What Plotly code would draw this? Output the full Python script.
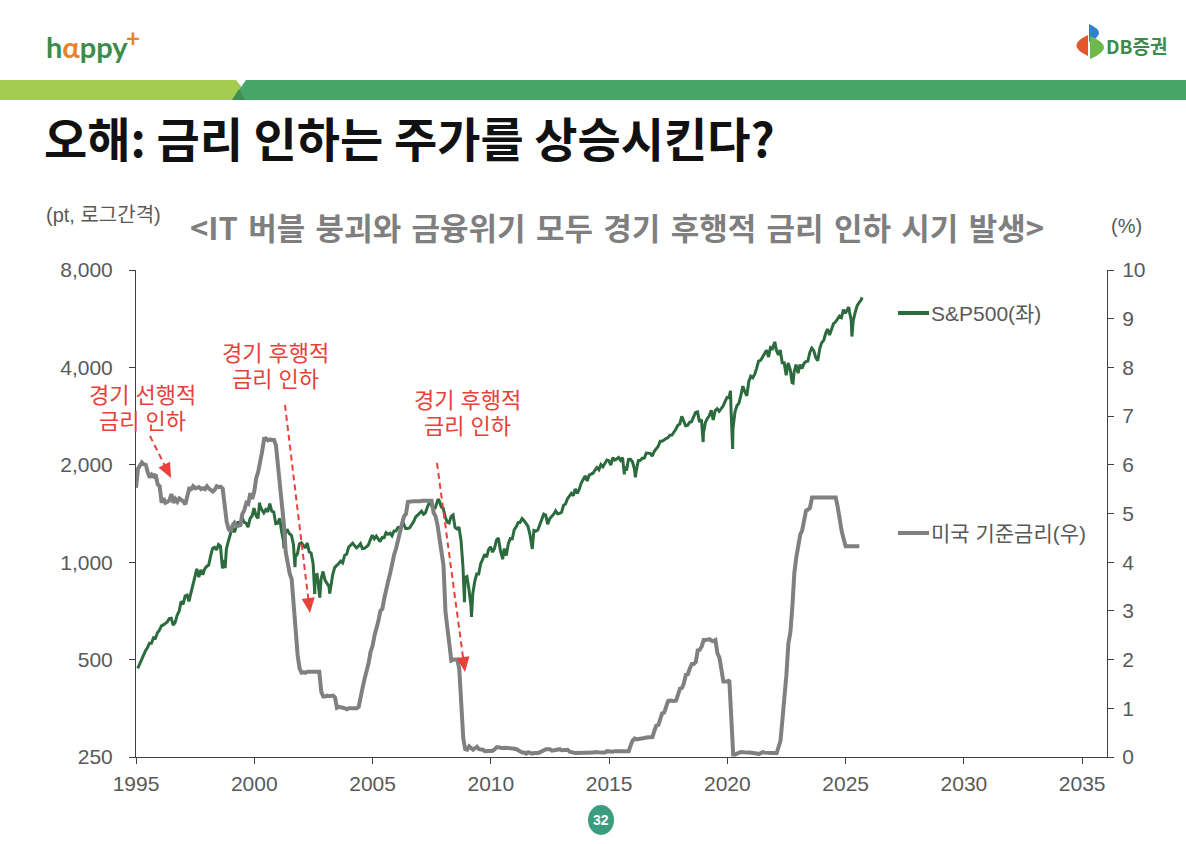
import math
import plotly.graph_objects as go

# ---------------- DATA ----------------
# S&P 500 monthly closes, Jan 1995 .. Aug 2025 (pt)
sp500_monthly = [
    470, 487, 500, 515, 533, 545, 562, 562, 584, 582, 605, 616,
    636, 640, 645, 654, 669, 671, 639, 652, 687, 705, 757, 741,
    786, 791, 757, 801, 848, 885, 954, 899, 947, 915, 955, 970,
    980, 1049, 1102, 1112, 1091, 1134, 1121, 957, 1017, 1099, 1164, 1229,
    1280, 1238, 1286, 1335, 1302, 1373, 1329, 1320, 1283, 1363, 1389, 1469,
    1394, 1366, 1499, 1452, 1421, 1455, 1431, 1518, 1437, 1429, 1315, 1320,
    1366, 1240, 1160, 1249, 1256, 1224, 1211, 1134, 1041, 1060, 1139, 1148,
    1130, 1107, 1147, 1077, 1067, 990, 912, 916, 815, 886, 936, 880,
    856, 841, 848, 917, 964, 975, 990, 1008, 996, 1051, 1058, 1112,
    1131, 1145, 1126, 1107, 1121, 1141, 1102, 1104, 1115, 1130, 1174, 1212,
    1181, 1204, 1181, 1157, 1192, 1191, 1234, 1220, 1229, 1207, 1249, 1248,
    1280, 1281, 1295, 1311, 1270, 1270, 1277, 1304, 1336, 1378, 1401, 1418,
    1438, 1407, 1421, 1482, 1531, 1503, 1455, 1474, 1527, 1549, 1481, 1468,
    1379, 1331, 1323, 1386, 1400, 1280, 1267, 1283, 1166, 969, 896, 903,
    826, 735, 798, 873, 919, 919, 987, 1021, 1057, 1036, 1096, 1115,
    1074, 1104, 1169, 1187, 1089, 1031, 1102, 1049, 1141, 1183, 1181, 1258,
    1286, 1327, 1326, 1364, 1345, 1321, 1292, 1219, 1131, 1253, 1247, 1258,
    1312, 1366, 1408, 1398, 1310, 1362, 1379, 1407, 1441, 1412, 1416, 1426,
    1498, 1515, 1569, 1598, 1631, 1606, 1686, 1633, 1682, 1757, 1806, 1848,
    1783, 1859, 1872, 1884, 1924, 1960, 1931, 2003, 1972, 2018, 2068, 2059,
    1995, 2105, 2068, 2086, 2107, 2063, 2104, 1972, 1920, 2079, 2080, 2044,
    1940, 1932, 2060, 2065, 2097, 2099, 2174, 2171, 2168, 2126, 2199, 2239,
    2279, 2364, 2363, 2384, 2412, 2423, 2470, 2472, 2519, 2575, 2648, 2674,
    2824, 2714, 2641, 2648, 2705, 2718, 2816, 2902, 2914, 2712, 2760, 2507,
    2704, 2784, 2834, 2946, 2752, 2942, 2980, 2926, 2977, 3038, 3141, 3231,
    3226, 2954, 2585, 2912, 3044, 3100, 3271, 3500, 3363, 3270, 3622, 3756,
    3714, 3811, 3973, 4181, 4204, 4298, 4395, 4523, 4308, 4605, 4567, 4766,
    4516, 4374, 4530, 4132, 4132, 3785, 4130, 3955, 3586, 3872, 4080, 3840,
    4077, 3970, 4109, 4169, 4180, 4450, 4589, 4508, 4288, 4194, 4568, 4770,
    4846, 5096, 5254, 5036, 5278, 5460, 5522, 5648, 5762, 5705, 6032, 5882,
    6041, 5955, 5612, 5569, 5912, 6205, 6339, 6460,
]
# intra-month highs / lows visible on the weekly line
sp500_extra_dates = [
    "1998-10-08", "2000-03-24", "2001-04-04", "2001-09-21", "2002-07-23",
    "2002-10-09", "2003-03-11", "2007-10-09", "2008-11-20", "2009-03-09",
    "2010-07-02", "2011-10-03", "2015-08-25", "2016-02-11", "2018-12-24",
    "2020-02-19", "2020-03-23", "2022-01-03", "2022-10-12", "2025-02-19",
    "2025-04-08", "2025-09-12",
]
sp500_extra_values = [
    959, 1527, 1103, 965, 797,
    777, 800, 1565, 752, 677,
    1022, 1099, 1868, 1829, 2351,
    3386, 2237, 4797, 3577, 6144,
    4983, 6584,
]

# US effective federal funds rate, monthly average, Jan 1995 .. Aug 2025 (%)
fed_rate_monthly = [
    5.53, 5.92, 5.98, 6.05, 6.01, 6.00, 5.85, 5.74, 5.80, 5.76, 5.80, 5.60,
    5.56, 5.22, 5.31, 5.22, 5.24, 5.27, 5.40, 5.22, 5.30, 5.24, 5.31, 5.29,
    5.25, 5.19, 5.39, 5.51, 5.50, 5.56, 5.52, 5.54, 5.54, 5.50, 5.52, 5.50,
    5.56, 5.51, 5.49, 5.45, 5.49, 5.56, 5.54, 5.55, 5.51, 5.07, 4.83, 4.68,
    4.63, 4.76, 4.81, 4.74, 4.74, 4.76, 4.99, 5.07, 5.22, 5.20, 5.42, 5.30,
    5.45, 5.73, 5.85, 6.02, 6.27, 6.53, 6.54, 6.50, 6.52, 6.51, 6.51, 6.40,
    5.98, 5.49, 5.31, 4.80, 4.21, 3.97, 3.77, 3.65, 3.07, 2.49, 2.09, 1.82,
    1.73, 1.74, 1.73, 1.75, 1.75, 1.75, 1.73, 1.74, 1.75, 1.75, 1.34, 1.24,
    1.24, 1.26, 1.25, 1.26, 1.26, 1.22, 1.01, 1.03, 1.01, 1.01, 1.00, 0.98,
    1.00, 1.01, 1.00, 1.00, 1.00, 1.03, 1.26, 1.43, 1.61, 1.76, 1.93, 2.16,
    2.28, 2.50, 2.63, 2.79, 3.00, 3.04, 3.26, 3.50, 3.62, 3.78, 4.00, 4.16,
    4.29, 4.49, 4.59, 4.79, 4.94, 4.99, 5.24, 5.25, 5.25, 5.25, 5.25, 5.24,
    5.25, 5.26, 5.26, 5.25, 5.25, 5.25, 5.26, 5.02, 4.94, 4.76, 4.49, 4.24,
    3.94, 2.98, 2.61, 2.28, 1.98, 2.00, 2.01, 2.00, 1.81, 0.97, 0.39, 0.16,
    0.15, 0.22, 0.18, 0.15, 0.18, 0.21, 0.16, 0.16, 0.15, 0.12, 0.12, 0.12,
    0.11, 0.13, 0.16, 0.20, 0.20, 0.18, 0.18, 0.19, 0.19, 0.19, 0.19, 0.18,
    0.17, 0.16, 0.14, 0.10, 0.09, 0.09, 0.07, 0.10, 0.08, 0.07, 0.08, 0.07,
    0.08, 0.10, 0.13, 0.14, 0.16, 0.16, 0.16, 0.13, 0.14, 0.16, 0.16, 0.16,
    0.14, 0.15, 0.14, 0.15, 0.11, 0.09, 0.09, 0.08, 0.08, 0.09, 0.08, 0.09,
    0.07, 0.07, 0.08, 0.09, 0.09, 0.10, 0.09, 0.09, 0.09, 0.09, 0.09, 0.12,
    0.11, 0.11, 0.11, 0.12, 0.12, 0.13, 0.13, 0.14, 0.14, 0.12, 0.12, 0.24,
    0.34, 0.38, 0.36, 0.37, 0.37, 0.38, 0.39, 0.40, 0.40, 0.40, 0.41, 0.54,
    0.65, 0.66, 0.79, 0.90, 0.91, 1.04, 1.15, 1.16, 1.15, 1.15, 1.16, 1.30,
    1.41, 1.42, 1.51, 1.69, 1.70, 1.82, 1.91, 1.91, 1.95, 2.19, 2.20, 2.27,
    2.40, 2.40, 2.41, 2.42, 2.39, 2.38, 2.40, 2.13, 2.04, 1.83, 1.55, 1.55,
    1.55, 1.58, 0.65, 0.05, 0.05, 0.08, 0.09, 0.10, 0.09, 0.09, 0.09, 0.09,
    0.09, 0.08, 0.07, 0.07, 0.06, 0.08, 0.10, 0.09, 0.08, 0.08, 0.08, 0.08,
    0.08, 0.08, 0.20, 0.33, 0.77, 1.21, 1.68, 2.33, 2.56, 3.08, 3.78, 4.10,
    4.33, 4.57, 4.65, 4.83, 5.06, 5.08, 5.12, 5.33, 5.33, 5.33, 5.33, 5.33,
    5.33, 5.33, 5.33, 5.33, 5.33, 5.33, 5.33, 5.33, 5.13, 4.83, 4.64, 4.48,
    4.33, 4.33, 4.33, 4.33, 4.33, 4.33, 4.33, 4.33,
]

x_tick_years = [1995, 2000, 2005, 2010, 2015, 2020, 2025, 2030, 2035]
y1_tickvals = [250, 500, 1000, 2000, 4000, 8000]
y1_ticktext = ["250", "500", "1,000", "2,000", "4,000", "8,000"]

START_YEAR = 1995

# ---------------- series assembly ----------------
def month_dates(n, day):
    out = []
    for i in range(n):
        y = START_YEAR + i // 12
        m = i % 12 + 1
        out.append(f"{y}-{m:02d}-{day:02d}")
    return out

sp_pairs = list(zip(month_dates(len(sp500_monthly), 28), sp500_monthly))
sp_pairs += list(zip(sp500_extra_dates, sp500_extra_values))
sp_pairs.sort(key=lambda p: p[0])
sp_x = [p[0] for p in sp_pairs]
sp_y = [p[1] for p in sp_pairs]

fed_x = month_dates(len(fed_rate_monthly), 1)
fed_y = fed_rate_monthly

# ---------------- figure ----------------
W, H = 1186, 844
L, R, T, B = 136, 1107, 270, 757

def px(x):
    return (x - L) / (R - L)

def py(y):
    return (B - y) / (B - T)

GREEN = "#2b6b3d"
GREY = "#808080"
RED = "#e8403a"
AXIS = "#404040"
TXT = "#595959"
NUMFONT = "Liberation Sans, Arial, sans-serif"
KFONT = "Noto Sans CJK KR, sans-serif"
MIXFONT = "Liberation Sans, Noto Sans CJK KR, sans-serif"

fig = go.Figure()
fig.add_trace(go.Scatter(x=sp_x, y=sp_y, mode="lines", name="S&P500(좌)",
                         line=dict(color=GREEN, width=3), yaxis="y"))
fig.add_trace(go.Scatter(x=fed_x, y=fed_y, mode="lines", name="미국 기준금리(우)",
                         line=dict(color=GREY, width=4), yaxis="y2"))

fig.update_layout(
    width=W, height=H, autosize=False,
    margin=dict(l=L, r=W - R, t=T, b=H - B, pad=0),
    paper_bgcolor="white", plot_bgcolor="white",
    showlegend=False,
    xaxis=dict(
        type="date",
        range=["1995-01-01", "2036-01-20"],
        tickvals=[f"{y}-01-01" for y in x_tick_years],
        ticktext=[str(y) for y in x_tick_years],
        showline=True, linecolor=AXIS, linewidth=1,
        ticks="outside", ticklen=6, tickcolor=AXIS, tickwidth=1,
        showgrid=False, zeroline=False,
        tickfont=dict(family=NUMFONT, size=21, color=TXT),
        ticklabelstandoff=2,
    ),
    yaxis=dict(
        type="log",
        range=[math.log10(250), math.log10(8000)],
        tickvals=y1_tickvals, ticktext=y1_ticktext,
        showline=True, linecolor=AXIS, linewidth=1,
        ticks="outside", ticklen=6, tickcolor=AXIS, tickwidth=1,
        showgrid=False, zeroline=False,
        tickfont=dict(family=NUMFONT, size=21, color=TXT),
        ticklabelstandoff=12,
    ),
    yaxis2=dict(
        overlaying="y", side="right",
        range=[0, 10], dtick=1, tick0=0,
        showline=True, linecolor=AXIS, linewidth=1,
        ticks="outside", ticklen=6, tickcolor=AXIS, tickwidth=1,
        showgrid=False, zeroline=False,
        tickfont=dict(family=NUMFONT, size=21, color=TXT),
        ticklabelstandoff=4,
    ),
)

shapes = []
ann = []

# header bars
def poly(points, color):
    path = "M " + " L ".join(f"{px(x)},{py(y)}" for x, y in points) + " Z"
    return dict(type="path", xref="paper", yref="paper", path=path,
                fillcolor=color, line=dict(width=0), layer="above")

shapes.append(poly([(0, 80), (236, 80), (244, 90), (238, 100), (0, 100)], "#a4cd50"))
shapes.append(poly([(246, 80), (1186, 80), (1186, 100), (232, 100)], "#48a569"))
shapes.append(poly([(239, 89), (245, 100), (232, 100)], "#3c8e52"))

# DB logo icon
def curve(p0, c, p1, color):
    path = (f"M {px(p0[0])},{py(p0[1])} Q {px(c[0])},{py(c[1])} {px(p1[0])},{py(p1[1])} Z")
    return dict(type="path", xref="paper", yref="paper", path=path,
                fillcolor=color, line=dict(width=0), layer="above")

shapes.append(curve((1088, 35), (1065, 45.5), (1088, 56), "#e3572b"))
shapes.append(curve((1089, 24), (1109, 33), (1089, 42), "#2f80d2"))
shapes.append(curve((1090, 36), (1118, 47.5), (1090, 59), "#6db94b"))

# page number circle
shapes.append(dict(type="circle", xref="paper", yref="paper",
                   x0=px(588), x1=px(614), y0=py(805), y1=py(835),
                   fillcolor="#3c9c7e", line=dict(width=0)))

# legend markers
shapes.append(dict(type="line", xref="paper", yref="paper",
                   x0=px(898), x1=px(929), y0=py(313), y1=py(313),
                   line=dict(color=GREEN, width=4)))
shapes.append(dict(type="line", xref="paper", yref="paper",
                   x0=px(898), x1=px(929), y0=py(533), y1=py(533),
                   line=dict(color=GREY, width=4)))

# red dashed arrows (pixel start -> tip)
arrows = [((150, 436), (171, 478)), ((285, 405), (310, 613)), ((437, 463), (465, 672))]
for (x0, y0), (x1, y1) in arrows:
    dx, dy = x1 - x0, y1 - y0
    ln = math.hypot(dx, dy)
    ux, uy = dx / ln, dy / ln
    hl, hw = 15, 6.5
    bx, by = x1 - ux * hl, y1 - uy * hl
    shapes.append(dict(type="line", xref="paper", yref="paper",
                       x0=px(x0), y0=py(y0), x1=px(bx + ux * 2), y1=py(by + uy * 2),
                       line=dict(color=RED, width=2, dash="6px,4px")))
    shapes.append(poly([(x1, y1), (bx - uy * hw, by + ux * hw), (bx + uy * hw, by - ux * hw)], RED))

fig.update_layout(shapes=shapes)

def text(x, y, s, size, color, family=KFONT, xanchor="left", yanchor="middle",
         align="left", height=None):
    a = dict(xref="paper", yref="paper", x=px(x), y=py(y), text=s,
             showarrow=False, xanchor=xanchor, yanchor=yanchor, align=align,
             font=dict(family=family, size=size, color=color), borderpad=0)
    if height is not None:
        a["height"] = height
    ann.append(a)

# happy+ logo
text(45, 46, "<b><span style='color:#3d8c4c'>h</span><span style='color:#e8822b'>α</span>"
     "<span style='color:#3d8c4c'>ppy</span></b>", 29, "#3d8c4c", family="Lato, sans-serif")
text(125, 37, "<b>+</b>", 24, "#e8822b", family="Lato, sans-serif")
# DB증권
text(1105, 45, "<b>DB증권</b>", 19, "#3d8c4c")

# title
text(43, 136, "<b>오해: 금리 인하는 주가를 상승시킨다?</b>", 47, "#111111")
# subtitle (slightly wider word gaps, as in the reference)
subtitle = "<IT 버블 붕괴와 금융위기 모두 경기 후행적 금리 인하 시기 발생>"
subtitle = subtitle.replace("<", "&lt;").replace(">", "&gt;").replace(" ", "\u2004")
text(617, 226, f"<b>{subtitle}</b>", 31, "#7f7f7f", xanchor="center")
# axis units
text(45, 215, "(pt, 로그간격)", 20, TXT, family=MIXFONT)
text(1126, 226, "(%)", 20, TXT, xanchor="center", family=NUMFONT)

# legend labels
text(930, 313, "S&P500(좌)", 21, TXT, family=MIXFONT)
text(930, 533, "미국 기준금리(우)", 21, TXT, family=MIXFONT)

# red callouts (one annotation per line)
callouts = [
    (142, 395, "경기 선행적", "금리 인하"),
    (275, 353, "경기 후행적", "금리 인하"),
    (467, 400, "경기 후행적", "금리 인하"),
]
for cx, cy, l1, l2 in callouts:
    text(cx, cy, l1, 22, RED, family=MIXFONT, xanchor="center", align="center", height=24)
    text(cx, cy + 26, l2, 22, RED, family=MIXFONT, xanchor="center", align="center", height=24)

# page number
text(601, 820, "<b>32</b>", 14, "white", family="Liberation Sans, sans-serif", xanchor="center")

fig.update_layout(annotations=ann)

fig.write_html("out.html")
